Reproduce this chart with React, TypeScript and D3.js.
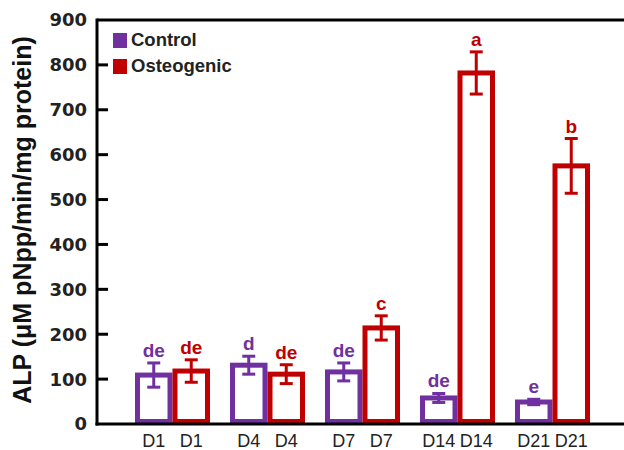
import React, { useEffect, useRef } from 'react';
import * as d3 from 'd3';

// ALP activity per day, mean and error
const days = ['D1', 'D4', 'D7', 'D14', 'D21'];
const controlMean = [109, 131, 116, 58, 49];
const controlErr = [27, 20, 20, 10, 6];
const osteoMean = [118, 111, 214, 782, 575];
const osteoErr = [25, 21, 27, 47, 61];
const controlLetters = ['de', 'd', 'de', 'de', 'e'];
const osteoLetters = ['de', 'de', 'c', 'a', 'b'];
const seriesNames = ['Control', 'Osteogenic'];
const yTicks = [0, 100, 200, 300, 400, 500, 600, 700, 800, 900];

const PURPLE = '#7030A0';
const RED = '#C00000';

const App = () => {
    const ref = useRef<SVGSVGElement | null>(null);

    useEffect(() => {
        if (!ref.current) return;
        const svg = d3.select(ref.current);
        svg.selectAll('*').remove();

        const W = 624, H = 450;
        const left = 97, top = 20, bottom = 424;

        const y = d3.scaleLinear().domain([0, 900]).range([bottom, top]);
        const x = d3.scaleBand<string>().domain(days).range([125, 600]).padding(0);
        const sub = d3.scaleBand<string>().domain(seriesNames).range([10, 85]).padding(0);

        // frame lines: top, left
        svg.append('line').attr('x1', left).attr('x2', W).attr('y1', top).attr('y2', top)
            .attr('stroke', '#000').attr('stroke-width', 3);
        svg.append('line').attr('x1', left).attr('x2', left).attr('y1', top - 1.5).attr('y2', bottom + 1.5)
            .attr('stroke', '#000').attr('stroke-width', 3);

        // y ticks (inward) and labels
        const yAxis = svg.append('g');
        yTicks.forEach(t => {
            if (t > 0 && t < 900) {
                yAxis.append('line').attr('x1', left).attr('x2', left + 11)
                    .attr('y1', y(t)).attr('y2', y(t)).attr('stroke', '#000').attr('stroke-width', 3);
            }
            yAxis.append('text').attr('x', 87).attr('y', y(t)).attr('dy', '0.36em')
                .attr('text-anchor', 'end').attr('font-family', 'DejaVu Sans').attr('font-weight', 'bold')
                .attr('font-size', 18).attr('fill', '#222').text(t);
        });

        // y title
        svg.append('text')
            .attr('transform', `translate(31,220) rotate(-90)`)
            .attr('text-anchor', 'middle').attr('font-family', 'Liberation Sans').attr('font-weight', 'bold')
            .attr('font-size', 25).attr('fill', '#111')
            .text('ALP (\u03bcM pNpp/min/mg protein)');

        const series = [
            { name: 'Control', mean: controlMean, err: controlErr, letters: controlLetters, color: PURPLE },
            { name: 'Osteogenic', mean: osteoMean, err: osteoErr, letters: osteoLetters, color: RED },
        ];

        series.forEach(s => {
            const g = svg.append('g');
            days.forEach((d, i) => {
                const x0 = (x(d) as number) + (sub(s.name) as number);
                const bw = sub.bandwidth();
                const cx = x0 + bw / 2;
                g.append('rect')
                    .attr('x', x0 + 2.5).attr('width', bw - 5)
                    .attr('y', y(s.mean[i])).attr('height', y(0) - 2.5 - y(s.mean[i]))
                    .attr('fill', '#fff').attr('stroke', s.color).attr('stroke-width', 5);
                const hi = y(s.mean[i] + s.err[i]);
                const lo = y(s.mean[i] - s.err[i]);
                g.append('line').attr('x1', cx).attr('x2', cx).attr('y1', hi).attr('y2', lo)
                    .attr('stroke', s.color).attr('stroke-width', 3);
                [hi, lo].forEach(v => {
                    g.append('line').attr('x1', cx - 6.5).attr('x2', cx + 6.5).attr('y1', v).attr('y2', v)
                        .attr('stroke', s.color).attr('stroke-width', 3);
                });
                g.append('text').attr('x', cx).attr('y', hi - 6)
                    .attr('text-anchor', 'middle').attr('font-family', 'Liberation Sans').attr('font-weight', 'bold')
                    .attr('font-size', 19).attr('fill', s.color).text(s.letters[i]);
                g.append('text').attr('x', cx).attr('y', 447)
                    .attr('text-anchor', 'middle').attr('font-family', 'Liberation Sans')
                    .attr('font-size', 18).attr('fill', '#222').text(d);
            });
        });

        // bottom axis line on top of bars
        svg.append('line').attr('x1', left - 1.5).attr('x2', W).attr('y1', bottom).attr('y2', bottom)
            .attr('stroke', '#000').attr('stroke-width', 3);

        // legend
        const legend = svg.append('g');
        series.forEach((s, i) => {
            legend.append('rect').attr('x', 113).attr('y', 33 + i * 26).attr('width', 14).attr('height', 15)
                .attr('fill', s.color);
            legend.append('text').attr('x', 131).attr('y', 46 + i * 26)
                .attr('font-family', 'Liberation Sans').attr('font-weight', 'bold').attr('font-size', 18.5)
                .attr('fill', '#222').text(s.name);
        });
    }, []);

    return (
        <svg ref={ref} width={624} height={450}
            style={{ position: 'absolute', left: 0, top: 0, background: '#fff' }} />
    );
};

export default App;
